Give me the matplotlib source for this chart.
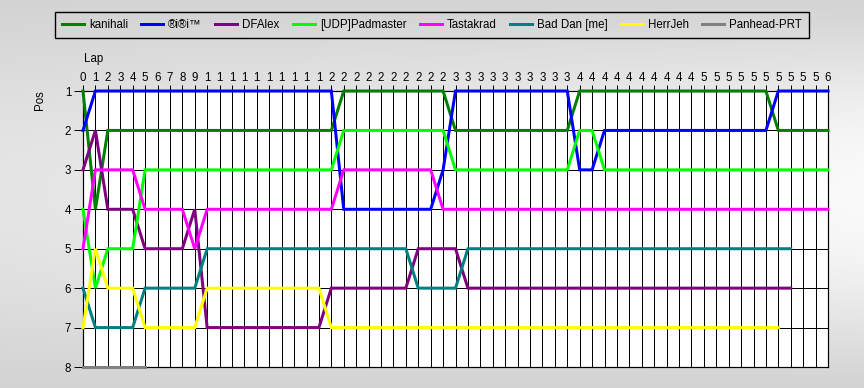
import numpy as np
import matplotlib
matplotlib.use("Agg")
import matplotlib.pyplot as plt
from matplotlib.lines import Line2D

plt.rcParams['font.family'] = ['Liberation Sans', 'DejaVu Sans']

drivers = ["kanihali", "®i®i™", "DFAlex", "[UDP]Padmaster", "Tastakrad",
           "Bad Dan [me]", "HerrJeh", "Panhead-PRT"]
colors = ["#008000", "#0000FF", "#800080", "#00FF00", "#FF00FF",
          "#008080", "#FFFF00", "#808080"]

kanihali = [1, 4,
            2, 2, 2, 2, 2, 2, 2, 2, 2, 2, 2, 2, 2, 2, 2, 2, 2, 2, 2,
            1, 1, 1, 1, 1, 1, 1, 1, 1,
            2, 2, 2, 2, 2, 2, 2, 2, 2, 2,
            1, 1, 1, 1, 1, 1, 1, 1, 1, 1, 1, 1, 1, 1, 1, 1,
            2, 2, 2, 2, 2]
riri = [2,
        1, 1, 1, 1, 1, 1, 1, 1, 1, 1, 1, 1, 1, 1, 1, 1, 1, 1, 1, 1,
        4, 4, 4, 4, 4, 4, 4, 4,
        3,
        1, 1, 1, 1, 1, 1, 1, 1, 1, 1,
        3, 3,
        2, 2, 2, 2, 2, 2, 2, 2, 2, 2, 2, 2, 2, 2,
        1, 1, 1, 1, 1]
dfalex = [3, 2,
          4, 4, 4,
          5, 5, 5, 5,
          4,
          7, 7, 7, 7, 7, 7, 7, 7, 7, 7,
          6, 6, 6, 6, 6, 6, 6,
          5, 5, 5, 5,
          6, 6, 6, 6, 6, 6, 6, 6, 6, 6, 6, 6, 6, 6, 6, 6, 6, 6, 6, 6, 6, 6, 6, 6, 6, 6, 6]
padmaster = [4, 6,
             5, 5, 5,
             3, 3, 3, 3, 3, 3, 3, 3, 3, 3, 3, 3, 3, 3, 3, 3,
             2, 2, 2, 2, 2, 2, 2, 2, 2,
             3, 3, 3, 3, 3, 3, 3, 3, 3, 3,
             2, 2,
             3, 3, 3, 3, 3, 3, 3, 3, 3, 3, 3, 3, 3, 3, 3, 3, 3, 3, 3]
tastakrad = [5,
             3, 3, 3, 3,
             4, 4, 4, 4,
             5,
             4, 4, 4, 4, 4, 4, 4, 4, 4, 4, 4,
             3, 3, 3, 3, 3, 3, 3, 3,
             4, 4, 4, 4, 4, 4, 4, 4, 4, 4, 4, 4, 4, 4, 4, 4,
             4, 4, 4, 4, 4, 4, 4, 4, 4, 4, 4, 4, 4, 4, 4, 4]
baddan = [6,
          7, 7, 7, 7,
          6, 6, 6, 6, 6,
          5, 5, 5, 5, 5, 5, 5, 5, 5, 5, 5, 5, 5, 5, 5, 5, 5,
          6, 6, 6, 6,
          5, 5, 5, 5, 5, 5, 5, 5, 5, 5, 5, 5, 5, 5, 5, 5, 5, 5, 5, 5, 5, 5, 5, 5, 5, 5, 5]
herrjeh = [7, 5,
           6, 6, 6,
           7, 7, 7, 7, 7,
           6, 6, 6, 6, 6, 6, 6, 6, 6, 6,
           7, 7, 7, 7, 7, 7, 7, 7, 7, 7, 7, 7, 7, 7, 7, 7, 7, 7, 7, 7,
           7, 7, 7, 7, 7, 7, 7, 7, 7, 7, 7, 7, 7, 7, 7, 7, 7]
panhead = [8, 8, 8, 8, 8, 8]

series = [kanihali, riri, dfalex, padmaster, tastakrad, baddan, herrjeh, panhead]

laps = list(range(0, 61))
lap_labels = ["0", "1", "2", "3", "4", "5", "6", "7", "8", "9",
              "1", "1", "1", "1", "1", "1", "1", "1", "1", "1",
              "2", "2", "2", "2", "2", "2", "2", "2", "2", "2",
              "3", "3", "3", "3", "3", "3", "3", "3", "3", "3",
              "4", "4", "4", "4", "4", "4", "4", "4", "4", "4",
              "5", "5", "5", "5", "5", "5", "5", "5", "5", "5",
              "6"]
positions = [1, 2, 3, 4, 5, 6, 7, 8]

W, H = 864, 388
fig = plt.figure(figsize=(W / 100, H / 100), dpi=100)

# gradient background
bg = fig.add_axes([0, 0, 1, 1], zorder=-10)
yy, xx = np.mgrid[0:1:200j, 0:1:400j]
v = np.sin(np.pi * yy) ** 1.2
g = 0.83 + 0.15 * v * (0.45 + 0.55 * xx)
bg.imshow(np.dstack([g, g, g]), aspect='auto', extent=[0, 1, 0, 1])
bg.set_axis_off()

left, right = 83 / W, 828 / W
top, bottom = 1 - 91 / H, 1 - 367 / H
ax = fig.add_axes([left, bottom, right - left, top - bottom])
ax.set_facecolor("white")

px = 0.72
for s, c, name in zip(series, colors, drivers):
    ax.plot(laps[:len(s)], s, color=c, lw=3 * px, label=name,
            solid_joinstyle='miter', zorder=3, clip_on=False)

ax.set_xlim(0, 60)
ax.set_ylim(8, 1)
ax.set_xticks(laps)
ax.set_xticklabels(lap_labels)
ax.set_yticks(positions)
ax.set_yticklabels([str(p) for p in positions])
ax.xaxis.tick_top()
ax.tick_params(axis='x', length=6 * px, width=1 * px, pad=1, labelsize=8.3,
               colors='black')
ax.tick_params(axis='y', length=9 * px, width=1 * px, pad=2, labelsize=8.3,
               colors='black')
ax.grid(True, color='black', lw=1 * px, zorder=1)
ax.set_axisbelow(True)
for sp in ax.spines.values():
    sp.set_color('black')
    sp.set_linewidth(1.2 * px)

fig.text(84 / W, 1 - 59 / H, "Lap", fontsize=8.3, va='center', ha='left')
fig.text(40 / W, 1 - 100 / H, "Pos", fontsize=8.3, va='center', ha='center',
         rotation=90)

handles = [Line2D([], [], color=c, lw=3 * px) for c in colors]
leg = fig.legend(handles, drivers, loc='center', bbox_to_anchor=(432 / W, 1 - 25 / H),
                 ncol=8, fontsize=8.3, handlelength=1.9, handletextpad=0.45,
                 columnspacing=1.15, borderpad=0.6, fancybox=False)
frame = leg.get_frame()
frame.set_alpha(None)
frame.set_facecolor((0, 0, 0, 0))
frame.set_edgecolor((0, 0, 0, 1))
frame.set_linewidth(1.4 * px)

fig.savefig("out.png", dpi=100)
